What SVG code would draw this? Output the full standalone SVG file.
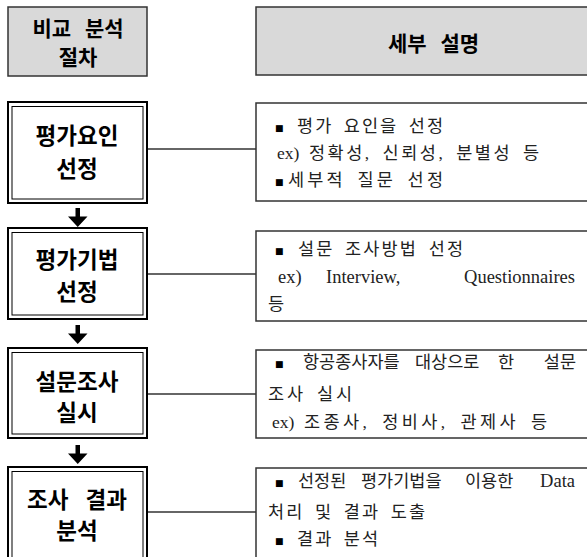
<svg xmlns="http://www.w3.org/2000/svg" width="587" height="557" viewBox="0 0 587 557">
<style>
.hdr{fill:#d9d9d9;stroke:#333;stroke-width:1.5}
.outer{fill:#fff;stroke:#000;stroke-width:2}
.inner{fill:none;stroke:#000;stroke-width:1}
.desc{fill:#fff;stroke:#333;stroke-width:1.5}
.conn{stroke:#333;stroke-width:1.5;fill:none}
.bt{font-family:"Noto Sans CJK KR","Noto Sans",sans-serif;font-weight:bold;font-size:22.5px;text-anchor:middle;fill:#000}
.hd{font-size:21px;word-spacing:9px}
.dt{font-family:"Liberation Serif","Noto Sans CJK KR",serif;font-size:17.5px;word-spacing:4px;fill:#222}
.lt{font-size:18.5px;word-spacing:0}
.end{text-anchor:end}
.sq{font-family:"DejaVu Sans",sans-serif;font-size:9px;fill:#000}
</style>
<g id="header-left">
<rect class="hdr" x="8" y="7" width="139" height="69"/>
<text class="bt hd" x="78" y="36">비교 분석</text>
<text class="bt hd" x="78" y="65">절차</text>
</g>
<g id="header-right">
<rect class="hdr" x="256" y="7" width="350" height="68"/>
<text class="bt hd" x="433.5" y="51">세부 설명</text>
</g>
<g id="connectors">
<line class="conn" x1="148" y1="149" x2="256" y2="149"/>
<line class="conn" x1="148" y1="274" x2="256" y2="274"/>
<line class="conn" x1="148" y1="394" x2="256" y2="394"/>
<line class="conn" x1="148" y1="512" x2="256" y2="512"/>
<path d="M75.5,208 h4.5 v8.5 h7.5 l-9.75,10.5 l-9.75,-10.5 h7.5 z" fill="#000"/>
<path d="M75.5,325 h4.5 v8.5 h7.5 l-9.75,10.5 l-9.75,-10.5 h7.5 z" fill="#000"/>
<path d="M75.5,445 h4.5 v8.5 h7.5 l-9.75,10.5 l-9.75,-10.5 h7.5 z" fill="#000"/>
</g>
<g id="node1">
<rect class="outer" x="8" y="102" width="139" height="101"/>
<rect class="inner" x="12" y="106.5" width="131" height="92.5"/>
<text class="bt" x="77" y="144">평가요인</text>
<text class="bt" x="77" y="177">선정</text>
</g>
<g id="node2">
<rect class="outer" x="8" y="228" width="139" height="91"/>
<rect class="inner" x="12" y="232.5" width="131" height="82.5"/>
<text class="bt" x="77" y="268">평가기법</text>
<text class="bt" x="77" y="300">선정</text>
</g>
<g id="node3">
<rect class="outer" x="8" y="348" width="139" height="90"/>
<rect class="inner" x="12" y="352.5" width="131" height="81.5"/>
<text class="bt" x="77" y="390">설문조사</text>
<text class="bt" x="77" y="421">실시</text>
</g>
<g id="node4">
<rect class="outer" x="8" y="467" width="139" height="120"/>
<rect class="inner" x="12" y="471.5" width="131" height="111"/>
<text class="bt" x="77" y="508" style="word-spacing:12px">조사 결과</text>
<text class="bt" x="77" y="539">분석</text>
</g>
<g id="desc1">
<rect class="desc" x="256" y="103" width="350" height="98"/>
<text class="sq" x="275" y="131">■</text>
<text class="dt" x="297" y="132" textLength="146">평가 요인을 선정</text>
<text class="dt" x="277" y="159">ex)</text>
<text class="dt" x="309" y="159" textLength="230">정확성, 신뢰성, 분별성 등</text>
<text class="sq" x="275" y="185">■</text>
<text class="dt" x="288" y="186" textLength="155">세부적 질문 선정</text>
</g>
<g id="desc2">
<rect class="desc" x="256" y="231" width="350" height="90"/>
<text class="sq" x="275" y="254">■</text>
<text class="dt" x="298" y="255" textLength="165">설문 조사방법 선정</text>
<text class="dt lt" x="278" y="283">ex)</text>
<text class="dt lt" x="326" y="283">Interview,</text>
<text class="dt lt end" x="575" y="283">Questionnaires</text>
<text class="dt" x="268" y="310">등</text>
</g>
<g id="desc3">
<rect class="desc" x="256" y="350" width="350" height="88"/>
<text class="sq" x="275" y="367">■</text>
<text class="dt" x="303" y="368">항공종사자를</text>
<text class="dt" x="415" y="368">대상으로</text>
<text class="dt" x="498" y="368">한</text>
<text class="dt end" x="576" y="368">설문</text>
<text class="dt" x="268" y="400" textLength="84">조사 실시</text>
<text class="dt" x="272" y="428">ex)</text>
<text class="dt" x="304" y="428" textLength="243">조종사, 정비사, 관제사 등</text>
</g>
<g id="desc4">
<rect class="desc" x="256" y="468" width="350" height="120"/>
<text class="sq" x="275" y="486">■</text>
<text class="dt" x="298" y="487">선정된</text>
<text class="dt" x="361" y="487">평가기법을</text>
<text class="dt" x="465" y="487">이용한</text>
<text class="dt lt end" x="575" y="487">Data</text>
<text class="dt" x="268" y="518" textLength="157">처리 및 결과 도출</text>
<text class="sq" x="275" y="544">■</text>
<text class="dt" x="297" y="545" textLength="81">결과 분석</text>
</g>
</svg>
